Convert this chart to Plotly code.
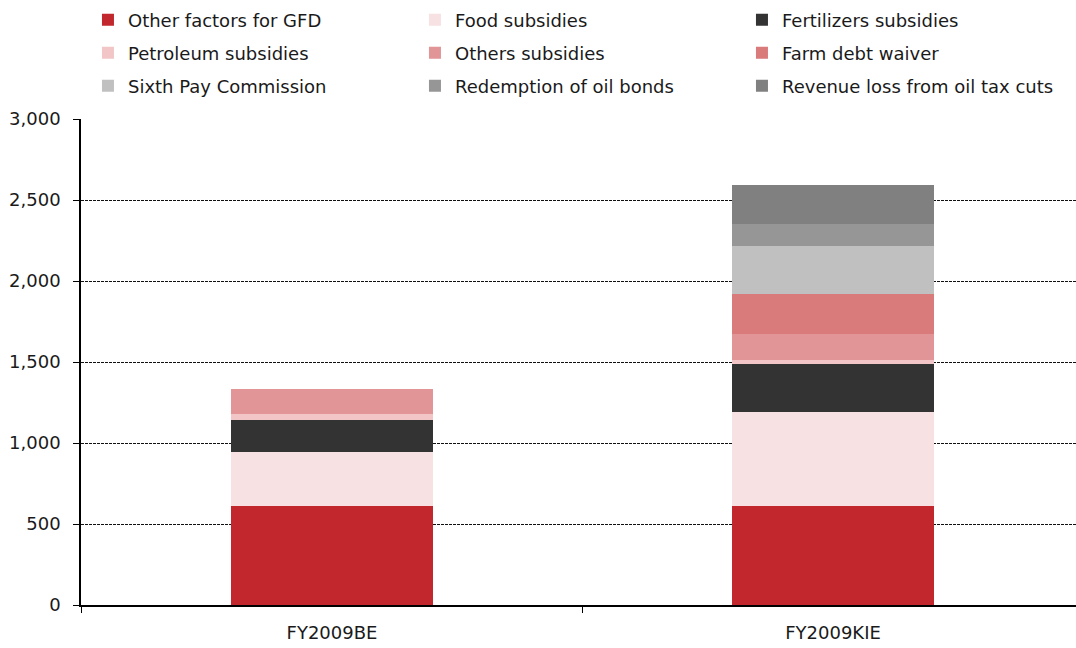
import plotly.graph_objects as go

categories = ["FY2009BE", "FY2009KIE"]
series_names = [
    "Other factors for GFD", "Food subsidies", "Fertilizers subsidies",
    "Petroleum subsidies", "Others subsidies", "Farm debt waiver",
    "Sixth Pay Commission", "Redemption of oil bonds", "Revenue loss from oil tax cuts",
]
other_factors = [611, 611]
food = [333, 580]
fertilizers = [198, 297]
petroleum = [37, 25]
others = [154, 160]
farm_debt = [0, 247]
sixth_pay = [0, 296]
oil_bonds = [0, 136]
revenue_loss = [0, 241]
values = [other_factors, food, fertilizers, petroleum, others, farm_debt, sixth_pay, oil_bonds, revenue_loss]
colors = ["#C1272D", "#F7E1E3", "#333333", "#F2C6C7", "#E19597", "#D97A7B", "#C0C0C0", "#969696", "#808080"]
y_ticks = [0, 500, 1000, 1500, 2000, 2500, 3000]

legend_ids = ["legend", "legend", "legend", "legend2", "legend2", "legend2", "legend3", "legend3", "legend3"]

fig = go.Figure()
for name, vals, col, lg in zip(series_names, values, colors, legend_ids):
    fig.add_trace(go.Bar(x=categories, y=vals, name=name, legend=lg,
                         marker=dict(color=col, line=dict(width=0)), width=0.405))

FONT = "DejaVu Sans"
leg_common = dict(orientation="h", x=0.007, xanchor="left", yref="container", yanchor="middle",
                  entrywidth=282, entrywidthmode="pixels", traceorder="normal",
                  font=dict(family=FONT, size=18, color="#1a1a1a"), bgcolor="rgba(0,0,0,0)")
fig.update_layout(
    barmode="stack",
    width=1076, height=648,
    margin=dict(l=81, r=0, t=119, b=43, autoexpand=False),
    plot_bgcolor="white", paper_bgcolor="white",
    font=dict(family=FONT, size=17, color="#1a1a1a"),
    showlegend=True,
    legend=dict(y=1 - 20 / 648, **leg_common),
    legend2=dict(y=1 - 53 / 648, **leg_common),
    legend3=dict(y=1 - 86 / 648, **leg_common),
    xaxis=dict(range=[-0.501, 1.485], showline=True, linecolor="black", linewidth=1.5,
               ticks="outside", tickson="boundaries", ticklen=6, tickcolor="black",
               tickfont=dict(size=18), showgrid=False, ticklabelstandoff=11),
    yaxis=dict(range=[0, 3000], tickvals=y_ticks, tickformat=",", showline=True, linecolor="black",
               linewidth=1.5, ticks="outside", ticklen=6, tickcolor="black",
               showgrid=True, gridcolor="#111111", gridwidth=1, griddash="3px,1px",
               tickfont=dict(size=18), zeroline=False, ticklabelstandoff=9),
)
fig.write_html("out.html")
